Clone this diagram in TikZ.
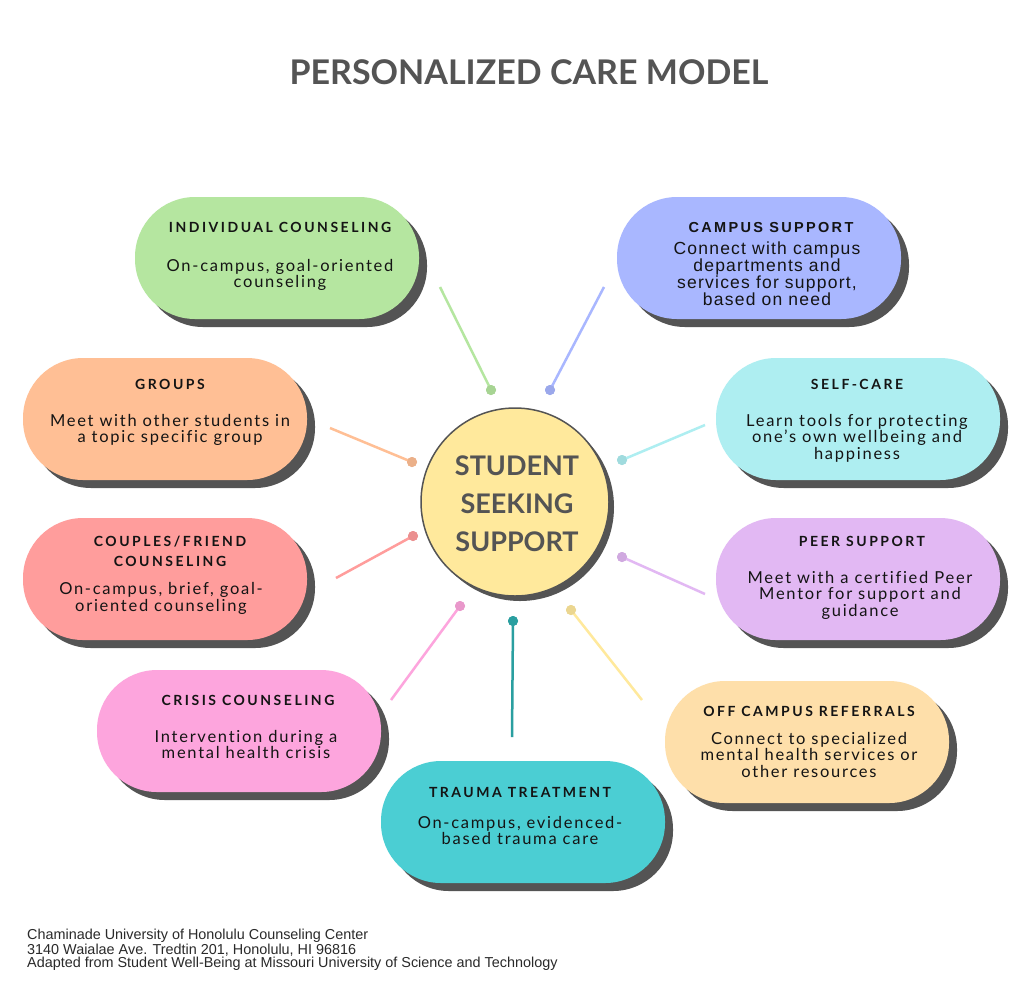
\documentclass[tikz,border=0pt]{standalone}
\usepackage{fontspec}
\setmainfont{Lato}
\newfontfamily\bodyf[LetterSpace=10.5,Ligatures=NoCommon]{Lato}
\newfontfamily\headf[LetterSpace=18,Ligatures=NoCommon]{Lato}
\newfontfamily\arialf[LetterSpace=7]{Liberation Sans}
\newfontfamily\arialhead[LetterSpace=16]{Liberation Sans}
\newfontfamily\footf{Liberation Sans}
\usetikzlibrary{shadows}
\definecolor{cgreen}{HTML}{B5E6A0}
\definecolor{cblue}{HTML}{A9B7FF}
\definecolor{corange}{HTML}{FFBF95}
\definecolor{ccyan}{HTML}{AEEEF1}
\definecolor{cred}{HTML}{FF9D9C}
\definecolor{cpurple}{HTML}{E2B8F3}
\definecolor{cpink}{HTML}{FDA5DD}
\definecolor{cpeach}{HTML}{FEDFAA}
\definecolor{cteal}{HTML}{4BCED3}
\definecolor{ctealdark}{HTML}{2A9FA0}
\definecolor{cyellow}{HTML}{FFE99C}
\definecolor{shd}{HTML}{545454}
\definecolor{ink}{HTML}{141414}
\definecolor{titleink}{HTML}{545454}
\definecolor{footink}{HTML}{2A2A2A}
\tikzset{
  pill/.style={rectangle, rounded corners=60pt, minimum width=284pt, minimum height=122pt, inner sep=0pt,
    drop shadow={shadow xshift=8pt, shadow yshift=-8pt, fill=shd, opacity=1}},
  ptitle/.style={anchor=base, align=center, inner sep=0pt, text=ink,
    font=\headf\bfseries\fontsize{14}{20}\selectfont},
  pbody/.style={anchor=base, align=center, inner sep=0pt, text=ink,
    font=\bodyf\fontsize{16.5}{16.5}\selectfont},
  atitle/.style={anchor=base, align=center, inner sep=0pt, text=ink,
    font=\arialhead\bfseries\fontsize{14.5}{20}\selectfont},
  abody/.style={anchor=base, align=center, inner sep=0pt, text=ink,
    font=\arialf\fontsize{17.5}{16.7}\selectfont},
  dotn/.style={circle, inner sep=0pt, minimum size=10pt},
  conn/.style={line width=2.5pt},
}
\begin{document}
\begin{tikzpicture}[x=1pt,y=-1pt]
\fill[white] (0,0) rectangle (1024,1002);
\useasboundingbox (0,0) rectangle (1024,1002);

% title
\node[anchor=base, inner sep=0pt, text=titleink, font=\fontsize{34}{40}\selectfont\bfseries] (title) at (529,84.5) {PERSONALIZED CARE MODEL};

% connectors
\coordinate (eg) at (440,287);
\coordinate (eb) at (604,287);
\coordinate (eo) at (330,428);
\coordinate (ec) at (705,425);
\coordinate (er) at (336,578);
\coordinate (ep) at (705,594);
\coordinate (ek) at (391,700);
\coordinate (et) at (512,737);
\coordinate (ey) at (642,700);
\node[dotn, fill=cgreen!92!black] (dg) at (491,390) {};
\node[dotn, fill=cblue!92!black] (db) at (550,390) {};
\node[dotn, fill=corange!92!black] (do) at (412,462) {};
\node[dotn, fill=ccyan!92!black] (dc) at (622,460) {};
\node[dotn, fill=cred!92!black] (dr) at (413,536) {};
\node[dotn, fill=cpurple!92!black] (dp) at (622,557) {};
\node[dotn, fill=cpink!92!black] (dk) at (460,606) {};
\node[dotn, fill=ctealdark] (dt) at (513,621) {};
\node[dotn, fill=cyellow!92!black] (dy) at (571,610) {};
\draw[conn, cgreen] (eg) -- (dg.center);
\draw[conn, cblue] (eb) -- (db.center);
\draw[conn, corange] (eo) -- (do.center);
\draw[conn, ccyan] (ec) -- (dc.center);
\draw[conn, cred] (er) -- (dr.center);
\draw[conn, cpurple] (ep) -- (dp.center);
\draw[conn, cpink] (ek) -- (dk.center);
\draw[conn, ctealdark] (et) -- (dt.center);
\draw[conn, cyellow] (ey) -- (dy.center);
\node[dotn, fill=cgreen!92!black] at (dg) {};
\node[dotn, fill=cblue!92!black] at (db) {};
\node[dotn, fill=corange!92!black] at (do) {};
\node[dotn, fill=ccyan!92!black] at (dc) {};
\node[dotn, fill=cred!92!black] at (dr) {};
\node[dotn, fill=cpurple!92!black] at (dp) {};
\node[dotn, fill=cpink!92!black] at (dk) {};
\node[dotn, fill=ctealdark] at (dt) {};
\node[dotn, fill=cyellow!92!black] at (dy) {};

% centre
\node[circle, minimum size=188pt, inner sep=0pt, fill=cyellow, draw=shd, line width=1.5pt,
  drop shadow={shadow xshift=5pt, shadow yshift=-5pt, fill=shd, opacity=1}] (ctr) at (515,502) {};
\node[align=center, inner sep=0pt, text=titleink, font=\fontsize{27}{38}\selectfont\bfseries] (ctrt) at (517,504)
  {STUDENT\\SEEKING\\SUPPORT};

% pills
\node[pill, fill=cgreen] (ind) at (277,258) {};
\node[ptitle] (indt) at (280,232) {INDIVIDUAL COUNSELING};
\node[pbody] (indb) at (280,287.5) {On-campus, goal-oriented\\counseling};

\node[pill, fill=cblue] (cam) at (759,258) {};
\node[atitle] (camt) at (771,232) {CAMPUS SUPPORT};
\node[abody] (camb) at (767,305) {Connect with campus\\departments and\\services for support,\\based on need};

\node[pill, fill=corange] (grp) at (165,419) {};
\node[ptitle] (grpt) at (170,389) {GROUPS};
\node[pbody] (grpb) at (170,442.5) {Meet with other students in\\a topic specific group};

\node[pill, fill=ccyan] (slf) at (858,419) {};
\node[ptitle] (slft) at (857,389) {SELF-CARE};
\node[pbody] (slfb) at (857,459) {Learn tools for protecting\\one’s own wellbeing and\\happiness};

\node[pill, fill=cred] (cpl) at (165,579) {};
\node[ptitle] (cplt) at (170,566) {COUPLES/FRIEND\\COUNSELING};
\node[pbody] (cplb) at (161,611) {On-campus, brief, goal-\\oriented counseling};

\node[pill, fill=cpurple] (peer) at (858,579) {};
\node[ptitle] (peert) at (862,546) {PEER SUPPORT};
\node[pbody] (peerb) at (860,616) {Meet with a certified Peer\\Mentor for support and\\guidance};

\node[pill, fill=cpink] (cri) at (239,731) {};
\node[ptitle] (crit) at (248,705) {CRISIS COUNSELING};
\node[pbody] (crib) at (246,758.5) {Intervention during a\\mental health crisis};

\node[pill, fill=cpeach] (off) at (807,742) {};
\node[ptitle] (offt) at (809,716) {OFF CAMPUS REFERRALS};
\node[pbody] (offb) at (809,777) {Connect to specialized\\mental health services or\\other resources};

\node[pill, fill=cteal] (trm) at (523,822) {};
\node[ptitle] (trmt) at (520,797) {TRAUMA TREATMENT};
\node[pbody] (trmb) at (520,844.5) {On-campus, evidenced-\\based trauma care};

% footer
\node[anchor=base west, align=left, inner sep=0pt, text=footink, font=\footf\fontsize{14.4}{12.8}\selectfont] (foot) at (27,967)
  {Chaminade University of Honolulu Counseling Center\\3140 Waialae Ave. Tredtin 201, Honolulu, HI 96816\\Adapted from Student Well-Being at Missouri University of Science and Technology};
\end{tikzpicture}
\end{document}
